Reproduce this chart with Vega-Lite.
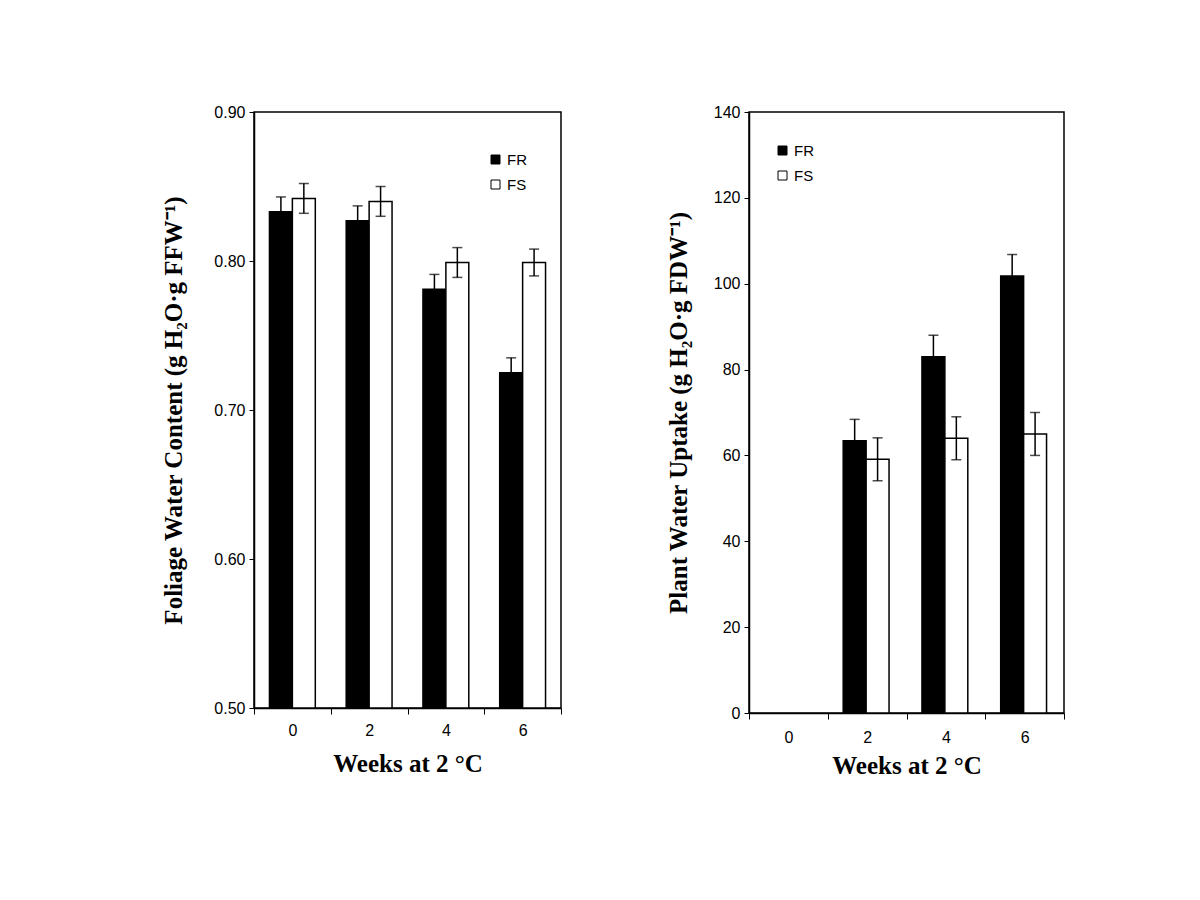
{
  "$schema": "https://vega.github.io/schema/vega-lite/v6.json",
  "background": "white",
  "padding": {"left": 161, "top": 103, "right": 0, "bottom": 0},
  "config": {
    "view": {"stroke": "black", "strokeWidth": 1.5},
    "font": "Liberation Sans",
    "axis": {
      "domainColor": "black", "domainWidth": 1.5,
      "tickColor": "black", "tickWidth": 1,
      "labelColor": "black", "labelFont": "Liberation Sans", "labelFontSize": 16,
      "titleColor": "black", "titleFont": "Liberation Serif", "titleFontSize": 25, "titleFontWeight": "bold",
      "grid": false
    },
    "legend": {
      "labelFont": "Liberation Sans", "labelFontSize": 15, "labelColor": "black",
      "symbolType": "square", "symbolSize": 81, "symbolStrokeColor": "black", "symbolStrokeWidth": 1,
      "rowPadding": 9, "labelOffset": 4, "title": null
    }
  },
  "datasets": {
    "foliage": [
      {"week": "0", "group": "FR", "value": 0.833, "err": 0.010},
      {"week": "0", "group": "FS", "value": 0.842, "err": 0.010},
      {"week": "2", "group": "FR", "value": 0.827, "err": 0.010},
      {"week": "2", "group": "FS", "value": 0.840, "err": 0.010},
      {"week": "4", "group": "FR", "value": 0.781, "err": 0.010},
      {"week": "4", "group": "FS", "value": 0.799, "err": 0.010},
      {"week": "6", "group": "FR", "value": 0.725, "err": 0.010},
      {"week": "6", "group": "FS", "value": 0.799, "err": 0.009}
    ],
    "uptake": [
      {"week": "2", "group": "FR", "value": 63.4, "err": 5.0},
      {"week": "2", "group": "FS", "value": 59.1, "err": 5.0},
      {"week": "4", "group": "FR", "value": 83.0, "err": 5.0},
      {"week": "4", "group": "FS", "value": 64.0, "err": 5.0},
      {"week": "6", "group": "FR", "value": 101.8, "err": 5.0},
      {"week": "6", "group": "FS", "value": 65.0, "err": 5.0}
    ]
  },
  "spacing": 102,
  "resolve": {"scale": {"fill": "independent", "y": "independent"}, "legend": {"fill": "independent"}},
  "hconcat": [
    {
      "width": 307, "height": 596,
      "data": {"name": "foliage"},
      "layer": [
        {
          "mark": {"type": "bar", "stroke": "black", "strokeWidth": 1.5},
          "encoding": {
            "x": {"field": "week", "type": "nominal",
              "scale": {"domain": ["0", "2", "4", "6"], "paddingInner": 0, "paddingOuter": 0},
              "axis": {"title": "Weeks at 2 °C", "labelAngle": 0, "tickBand": "extent", "tickSize": 6, "labelPadding": 8, "titlePadding": 13}},
            "xOffset": {"field": "group", "type": "nominal", "scale": {"domain": ["FR", "FS"], "paddingInner": 0, "paddingOuter": 0.674}},
            "y": {"field": "value", "type": "quantitative",
              "scale": {"domain": [0.5, 0.9], "zero": false, "nice": false},
              "axis": {"values": [0.5, 0.6, 0.7, 0.8, 0.9], "format": ".2f", "tickSize": 5, "labelPadding": 4, "titlePadding": 27},
              "title": "Foliage Water Content (g H₂O·g FFW⁻¹)"},
            "y2": {"datum": 0.5},
            "fill": {"field": "group", "type": "nominal",
              "scale": {"domain": ["FR", "FS"], "range": ["black", "white"]},
              "legend": {"orient": "none", "legendX": 234, "legendY": 40}}
          }
        },
        {
          "mark": {"type": "errorbar", "ticks": {"size": 10, "color": "black", "thickness": 1.5}, "rule": {"color": "black", "strokeWidth": 1.5}},
          "encoding": {
            "x": {"field": "week", "type": "nominal"},
            "xOffset": {"field": "group", "type": "nominal"},
            "y": {"field": "value", "type": "quantitative", "title": "Foliage Water Content (g H₂O·g FFW⁻¹)"},
            "yError": {"field": "err"}
          }
        }
      ]
    },
    {
      "width": 315, "height": 601,
      "data": {"name": "uptake"},
      "layer": [
        {
          "mark": {"type": "bar", "stroke": "black", "strokeWidth": 1.5},
          "encoding": {
            "x": {"field": "week", "type": "nominal",
              "scale": {"domain": ["0", "2", "4", "6"], "paddingInner": 0, "paddingOuter": 0},
              "axis": {"title": "Weeks at 2 °C", "labelAngle": 0, "tickBand": "extent", "tickSize": 6, "labelPadding": 10, "titlePadding": 8}},
            "xOffset": {"field": "group", "type": "nominal", "scale": {"domain": ["FR", "FS"], "paddingInner": 0, "paddingOuter": 0.712}},
            "y": {"field": "value", "type": "quantitative",
              "scale": {"domain": [0, 140], "nice": false},
              "axis": {"values": [0, 20, 40, 60, 80, 100, 120, 140], "tickSize": 5, "labelPadding": 4, "titlePadding": 22},
              "title": "Plant Water Uptake (g H₂O·g FDW⁻¹)"},
            "fill": {"field": "group", "type": "nominal",
              "scale": {"domain": ["FR", "FS"], "range": ["black", "white"]},
              "legend": {"orient": "none", "legendX": 26, "legendY": 31}}
          }
        },
        {
          "mark": {"type": "errorbar", "ticks": {"size": 10, "color": "black", "thickness": 1.5}, "rule": {"color": "black", "strokeWidth": 1.5}},
          "encoding": {
            "x": {"field": "week", "type": "nominal"},
            "xOffset": {"field": "group", "type": "nominal"},
            "y": {"field": "value", "type": "quantitative", "title": "Plant Water Uptake (g H₂O·g FDW⁻¹)"},
            "yError": {"field": "err"}
          }
        }
      ]
    }
  ]
}
